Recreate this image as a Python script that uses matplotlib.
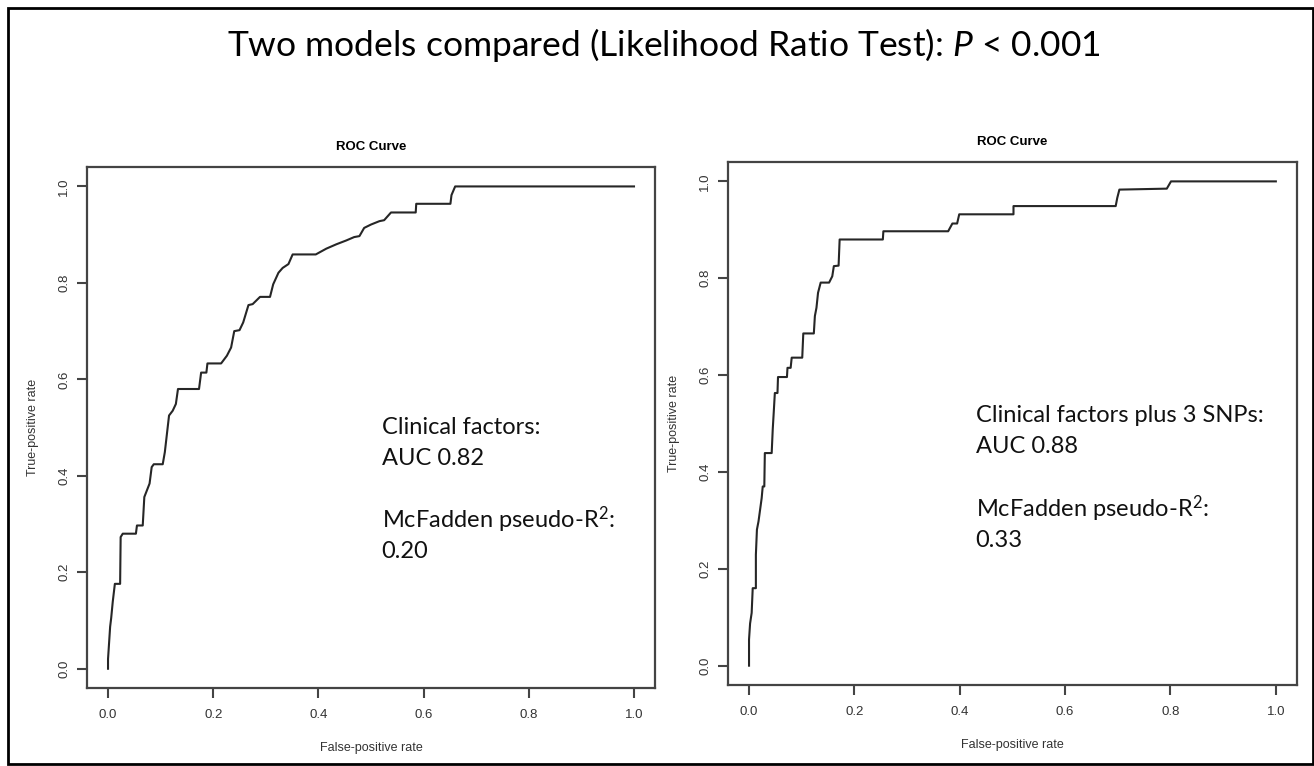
import matplotlib.pyplot as plt
from matplotlib.patches import Rectangle

plt.rcParams['mathtext.fontset'] = 'custom'
plt.rcParams['mathtext.rm'] = 'Lato'
plt.rcParams['mathtext.it'] = 'Lato:italic'

# ROC curve, clinical factors only (false-positive rate, true-positive rate)
fpr_clin = [0.0, 0.0, 0.004, 0.006, 0.009, 0.013, 0.023, 0.024, 0.028, 0.053, 0.055,
            0.066, 0.069, 0.074, 0.079, 0.083, 0.087, 0.104, 0.108, 0.112, 0.116,
            0.123, 0.129, 0.133, 0.173, 0.177, 0.187, 0.189, 0.215, 0.226, 0.234,
            0.240, 0.250, 0.257, 0.267, 0.275, 0.289, 0.308, 0.314, 0.324, 0.332,
            0.343, 0.351, 0.395, 0.415, 0.434, 0.453, 0.468, 0.478, 0.487, 0.500,
            0.516, 0.525, 0.538, 0.585, 0.586, 0.651, 0.653, 0.660, 1.0]
tpr_clin = [0.0, 0.02, 0.087, 0.105, 0.139, 0.176, 0.176, 0.273, 0.280, 0.280, 0.297,
            0.297, 0.356, 0.370, 0.384, 0.418, 0.424, 0.424, 0.449, 0.487, 0.525,
            0.535, 0.549, 0.580, 0.580, 0.614, 0.614, 0.633, 0.633, 0.649, 0.666,
            0.700, 0.702, 0.718, 0.754, 0.756, 0.771, 0.771, 0.797, 0.821, 0.831,
            0.839, 0.859, 0.859, 0.871, 0.880, 0.888, 0.895, 0.897, 0.914, 0.921,
            0.928, 0.930, 0.946, 0.946, 0.964, 0.964, 0.982, 1.0, 1.0]

# ROC curve, clinical factors plus 3 SNPs
fpr_snp = [0.0, 0.0, 0.002, 0.005, 0.007, 0.013, 0.013, 0.015, 0.018, 0.021, 0.024,
           0.026, 0.029, 0.030, 0.043, 0.045, 0.047, 0.049, 0.054, 0.055, 0.072,
           0.073, 0.079, 0.081, 0.101, 0.103, 0.123, 0.125, 0.128, 0.131, 0.136,
           0.152, 0.158, 0.161, 0.170, 0.172, 0.254, 0.255, 0.378, 0.386, 0.395,
           0.399, 0.502, 0.502, 0.696, 0.699, 0.703, 0.793, 0.801, 1.0]
tpr_snp = [0.0, 0.054, 0.087, 0.109, 0.160, 0.160, 0.229, 0.281, 0.298, 0.322, 0.346,
           0.370, 0.370, 0.439, 0.439, 0.488, 0.525, 0.563, 0.563, 0.596, 0.596,
           0.615, 0.615, 0.636, 0.636, 0.686, 0.686, 0.722, 0.739, 0.770, 0.791,
           0.791, 0.804, 0.825, 0.826, 0.880, 0.880, 0.897, 0.897, 0.913, 0.913,
           0.932, 0.932, 0.949, 0.949, 0.966, 0.983, 0.985, 1.0, 1.0]

ticks = [0.0, 0.2, 0.4, 0.6, 0.8, 1.0]
tick_labels = ['0.0', '0.2', '0.4', '0.6', '0.8', '1.0']

notes_clin = ['Clinical factors:', 'AUC 0.82', 'McFadden pseudo-R$^2$:', '0.20']
notes_snp = ['Clinical factors plus 3 SNPs:', 'AUC 0.88', 'McFadden pseudo-R$^2$:', '0.33']

fig = plt.figure(figsize=(13.14, 7.66), dpi=100)

fig.patches.append(Rectangle((0.006, 0.003), 0.993, 0.986, transform=fig.transFigure,
                             fill=False, edgecolor='black', linewidth=2))

fig.text(0.505, 0.941, 'Two models compared (Likelihood Ratio Test): $\\mathit{P}$ < 0.001',
         ha='center', va='center', fontsize=25.5, family='Lato')

panels = [
    ([0.0662, 0.1018, 0.4323, 0.680], fpr_clin, tpr_clin, notes_clin, 0.52, [0.50, 0.435, 0.308, 0.243]),
    ([0.554, 0.1057, 0.4330, 0.6828], fpr_snp, tpr_snp, notes_snp, 0.43, [0.517, 0.452, 0.324, 0.259]),
]

for rect, fx, ty, notes, tx, tys in panels:
    ax = fig.add_axes(rect)
    ax.plot(fx, ty, color='#262626', linewidth=1.5)
    ax.set_xlim(-0.04, 1.04)
    ax.set_ylim(-0.04, 1.04)
    ax.set_xticks(ticks)
    ax.set_xticklabels(tick_labels, family='Liberation Sans', fontsize=9.5, color='#333333')
    ax.set_yticks(ticks)
    ax.set_yticklabels(tick_labels, family='Liberation Sans', fontsize=9.5, color='#333333',
                       rotation=90, va='center')
    ax.tick_params(length=7, width=1.5, color='#444444')
    ax.tick_params(axis='x', pad=8)
    ax.tick_params(axis='y', pad=5)
    for s in ax.spines.values():
        s.set_linewidth(1.6)
        s.set_color('#444444')
    ax.set_xlabel('False-positive rate', family='Liberation Sans', fontsize=9, color='#333333',
                  labelpad=15)
    ax.set_ylabel('True-positive rate', family='Liberation Sans', fontsize=9, color='#333333',
                  labelpad=14)
    ax.set_title('ROC Curve', family='Liberation Sans', fontsize=9.5, fontweight='bold',
                 pad=12.5)
    for note, yy in zip(notes, tys):
        ax.text(tx, yy, note, family='Lato', fontsize=17, ha='left', va='center',
                color='#111111')

fig.savefig('out.png', dpi=100)
